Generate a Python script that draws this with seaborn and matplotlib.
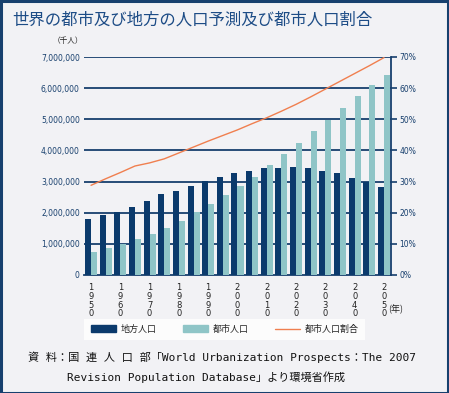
import matplotlib
matplotlib.use("Agg")
import matplotlib.pyplot as plt
import matplotlib.patches as mpatches
from matplotlib.lines import Line2D
import seaborn as sns
import pandas as pd
import numpy as np

# ---- data ----
years = [1950, 1955, 1960, 1965, 1970, 1975, 1980, 1985, 1990, 1995, 2000,
         2005, 2010, 2015, 2020, 2025, 2030, 2035, 2040, 2045, 2050]
rural = [1810000, 1940000, 2030000, 2190000, 2390000, 2590000, 2710000, 2870000,
         3030000, 3160000, 3290000, 3350000, 3420000, 3450000, 3480000, 3450000,
         3350000, 3260000, 3130000, 3000000, 2810000]
urban = [750000, 880000, 1000000, 1160000, 1320000, 1520000, 1740000, 2010000,
         2290000, 2580000, 2870000, 3160000, 3520000, 3870000, 4230000, 4610000,
         4970000, 5350000, 5740000, 6100000, 6420000]
urban_pct = [28.8, 30.9, 32.9, 35.0, 36.0, 37.3, 39.2, 41.1, 43.0, 44.8, 46.6,
             48.6, 50.5, 52.6, 54.8, 57.2, 59.7, 62.2, 64.7, 67.2, 69.8]
series_names = ["地方人口", "都市人口", "都市人口割合"]
title = "世界の都市及び地方の人口予測及び都市人口割合"
source1 = "資 料：国 連 人 口 部「World Urbanization Prospects：The 2007"
source2 = "Revision Population Database」より環境省作成"

NAVY = "#0b3a6c"
TEAL = "#8fc5c7"
ORANGE = "#f07f4f"
GRID = "#173f6d"
BG = "#f2f2f5"
TXT = "#173f6d"

sns.set_style("white")
plt.rcParams["font.family"] = ["Noto Sans CJK JP", "DejaVu Sans"]

df = pd.DataFrame({
    "year": [str(y) for y in years] * 2,
    "value": rural + urban,
    "kind": [series_names[0]] * len(years) + [series_names[1]] * len(years),
})

W, H = 449, 393
fig = plt.figure(figsize=(W / 100, H / 100), dpi=100)
fig.patch.set_facecolor(BG)

L, R, T, B = 84, 391, 57, 275
ax = fig.add_axes([L / W, 1 - B / H, (R - L) / W, (B - T) / H])
ax.set_facecolor(BG)

sns.barplot(data=df, x="year", y="value", hue="kind",
            palette=[NAVY, TEAL], width=0.82, saturation=1,
            ax=ax, legend=False, zorder=3)
for p in ax.patches:
    p.set_edgecolor("none")

ax.set_xlim(-0.48, 20.48)
ax.set_ylim(0, 7000000)
yt = np.arange(0, 7000001, 1000000)
ax.set_yticks(yt)
ax.set_yticklabels(["0"] + [f"{v:,}" for v in yt[1:]], fontsize=5.5,
                   color=TXT, family="DejaVu Sans")
ax.tick_params(axis="y", length=0, pad=3)
for v in yt[1:]:
    ax.axhline(v, color=GRID, lw=1.3, zorder=1)

xt = list(range(0, 21, 2))
ax.set_xticks(xt)
ax.set_xticklabels(["\n".join(str(years[i])) for i in xt], fontsize=6,
                   color="#222222", family="DejaVu Sans", linespacing=0.95)
ax.tick_params(axis="x", length=0, pad=6)
ax.set_xlabel("")
ax.set_ylabel("")
for s in ["left", "top", "right"]:
    ax.spines[s].set_visible(False)
ax.spines["bottom"].set_color(GRID)
ax.spines["bottom"].set_linewidth(1.3)

ax2 = ax.twinx()
sns.lineplot(x=np.arange(len(years)), y=urban_pct, ax=ax2, color=ORANGE,
             lw=1.0, zorder=4)
ax2.set_ylim(0, 70)
ax2.set_yticks(range(0, 71, 10))
ax2.set_yticklabels([f"{v}%" for v in range(0, 71, 10)], fontsize=5.5,
                    color=TXT, family="DejaVu Sans")
ax2.tick_params(axis="y", length=4, width=1.2, color=GRID, pad=2)
for s in ["left", "top", "bottom"]:
    ax2.spines[s].set_visible(False)
ax2.spines["right"].set_color(GRID)
ax2.spines["right"].set_linewidth(1.3)
ax2.set_xlim(-0.48, 20.48)

# title & units
fig.text(12 / W, 1 - 20 / H, title, fontsize=11.8, color="#1d4c86",
         va="center", ha="left")
fig.text(68 / W, 1 - 41 / H, "（千人）", fontsize=5.5, color="#222222",
         va="center", ha="center")
fig.text(396 / W, 1 - 309 / H, "(年)", fontsize=6.5, color="#222222",
         va="center", ha="center")

# legend
handles = [mpatches.Patch(color=NAVY), mpatches.Patch(color=TEAL),
           Line2D([0], [0], color=ORANGE, lw=1.0)]
leg = fig.legend(handles, series_names, ncol=3, loc="center",
                 bbox_to_anchor=(224.5 / W, 1 - 329.5 / H), fontsize=6.5,
                 frameon=True, facecolor="white", edgecolor="white",
                 fancybox=False, handlelength=2.8, handleheight=0.8,
                 columnspacing=2.9, handletextpad=0.5, borderpad=0.7,
                 borderaxespad=0)
leg.get_frame().set_linewidth(0)

# source
mono = ["DejaVu Sans Mono", "Noto Sans CJK JP"]
fig.text(28 / W, 1 - 357 / H, source1, fontsize=8, color="#111111",
         va="center", ha="left", family=mono)
fig.text(67 / W, 1 - 377 / H, source2, fontsize=8, color="#111111",
         va="center", ha="left", family=mono)

# border
fig.patches.append(mpatches.Rectangle((0.5 / W, 0.5 / H), 1 - 1.5 / W, 1 - 1.5 / H,
                                      transform=fig.transFigure, fill=False,
                                      edgecolor="#17406e", lw=2.2))

fig.savefig("out.png", dpi=100, facecolor=BG)
